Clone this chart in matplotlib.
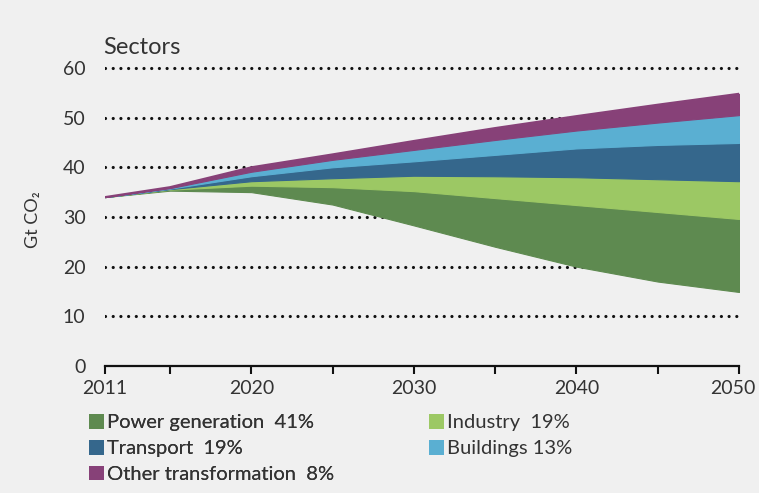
import numpy as np
import matplotlib
matplotlib.use('Agg')
import matplotlib.pyplot as plt
import matplotlib.transforms as mtransforms
from matplotlib.patches import Patch

# data (Gt CO2)
years = [2011, 2015, 2020, 2025, 2030, 2035, 2040, 2045, 2050]
remaining = [34.0, 35.3, 35.0, 32.5, 28.3, 24.0, 20.0, 17.0, 14.9]   # lower edge of the wedges
power = [0.0, 0.2, 1.3, 3.5, 6.9, 9.8, 12.4, 14.0, 14.7]
industry = [0.0, 0.1, 0.9, 1.8, 3.1, 4.4, 5.6, 6.6, 7.6]
transport = [0.0, 0.1, 1.0, 2.2, 2.9, 4.3, 5.8, 6.9, 7.7]
buildings = [0.0, 0.1, 0.9, 1.5, 2.3, 3.0, 3.6, 4.5, 5.6]
other = [0.0, 0.2, 0.9, 1.1, 1.8, 2.4, 2.9, 3.6, 4.3]

sectors = ['Power generation  41%', 'Industry  19%', 'Transport  19%', 'Buildings 13%', 'Other transformation  8%']
colors = ['#5e8a50', '#9cc864', '#35678c', '#5aafd2', '#874178']

yticks = [0, 10, 20, 30, 40, 50, 60]
xmajor = [2011, 2020, 2030, 2040, 2050]
xminor = [2015, 2025, 2035, 2045]

plt.rcParams['font.family'] = ['Lato', 'DejaVu Sans']
txt = '#333333'
bg = '#f0f0f0'

fig = plt.figure(figsize=(7.59, 4.93), dpi=100, facecolor=bg)
ax = fig.add_axes([105 / 759, 127 / 493, 634 / 759, 308 / 493], facecolor=bg)

# dotted gridlines
gl = ax.hlines(yticks[1:], 2011, 2050, colors='#111111', linewidth=2.3,
               linestyles=[(0, (0.01, 2.4))], zorder=1)
gl.set_capstyle('round')

# wedges stacked on top of the remaining emissions
layers = np.vstack([remaining, power, industry, transport, buildings, other])
cum = np.cumsum(layers, axis=0)
for i, c in enumerate(colors):
    ax.fill_between(years, cum[i], cum[i + 1], facecolor=c, edgecolor=c, linewidth=0.8, zorder=2)
ax.plot(years, cum[-1], color=colors[-1], linewidth=1.5, zorder=3)

ax.set_xlim(2011, 2050)
ax.set_ylim(0, 62)
ax.set_yticks(yticks)
ax.set_xticks(xmajor)
ax.set_xticks(xminor, minor=True)
ax.tick_params(axis='y', length=0, pad=14, labelsize=14, labelcolor=txt)
ax.tick_params(axis='x', which='both', direction='out', length=6, width=1.5, color='#111111')
ax.tick_params(axis='x', pad=4, labelsize=14, labelcolor=txt)
for s in ['top', 'right', 'left']:
    ax.spines[s].set_visible(False)
ax.spines['bottom'].set_linewidth(1.6)
ax.spines['bottom'].set_color('#111111')

# pull the last year label in a little so it stays inside the figure
last = ax.get_xticklabels()[-1]
last.set_transform(last.get_transform() + mtransforms.ScaledTranslation(-6 / 100, 0, fig.dpi_scale_trans))

fig.text(103 / 759, 1 - 47 / 493, 'Sectors', fontsize=17, color=txt, va='center', ha='left')
fig.text(33 / 759, 1 - 220 / 493, 'Gt CO\u2082', fontsize=13, color=txt, rotation=90, va='center', ha='center')

# legend in two columns, each placed on its own
handles = [Patch(facecolor=c, edgecolor='none') for c in colors]
kw = dict(loc='upper left', frameon=False, fontsize=14.5, labelcolor=txt, handlelength=0.75,
          handleheight=0.75, handletextpad=0.15, labelspacing=0.42, borderpad=0, borderaxespad=0)
col1 = [0, 2, 4]
col2 = [1, 3]
leg1 = fig.legend([handles[i] for i in col1], [sectors[i] for i in col1],
                  bbox_to_anchor=(89 / 759, 1 - 414 / 493), **kw)
fig.add_artist(leg1)
fig.legend([handles[i] for i in col2], [sectors[i] for i in col2],
           bbox_to_anchor=(429 / 759, 1 - 414 / 493), **kw)

fig.savefig('out.png', dpi=100, facecolor=bg)
